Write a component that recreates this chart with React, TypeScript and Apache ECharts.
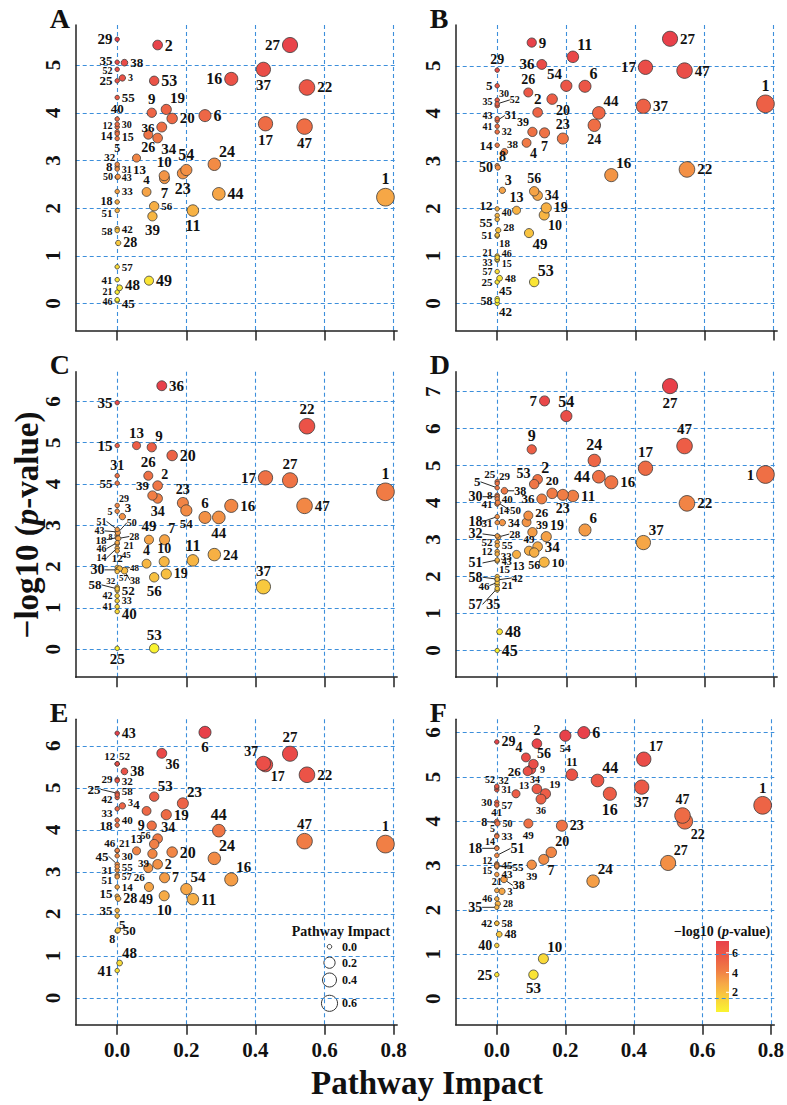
import React, { useEffect, useRef } from "react";
import * as echarts from "echarts";

const FONT = "'Liberation Serif', 'Times New Roman', Times, serif";

// Pathway numbers (1..58) and their topological impact (shared by all panels)
const PATHWAY_IDS = [
  1, 2, 3, 4, 5, 6, 7, 8, 9, 10, 11, 12, 13, 14, 15, 16, 17, 18, 19, 20,
  21, 22, 23, 24, 25, 26, 27, 28, 29, 30, 31, 32, 33, 34, 35, 36, 37, 38, 39, 40,
  41, 42, 43, 44, 45, 46, 47, 48, 49, 50, 51, 52, 53, 54, 55, 56, 57, 58,
];
const IMPACT = [
  0.776, 0.117, 0.015, 0.085, 0, 0.254, 0.137, 0, 0.1, 0.136,
  0.219, 0, 0.056, 0, 0, 0.33, 0.429, 0, 0.142, 0.159,
  0, 0.549, 0.19, 0.281, 0, 0.09, 0.5, 0.003, 0, 0,
  0, 0, 0, 0.117, 0, 0.129, 0.423, 0.021, 0.102, 0,
  0, 0, 0, 0.294, 0, 0, 0.542, 0.007, 0.092, 0.002,
  0, 0, 0.107, 0.2, 0, 0.107, 0, 0,
];

// -log10(p-value) of each pathway, one list per panel
const LOGP_A = [
  2.23, 5.42, 4.73, 2.34, 3.46, 3.94, 2.62, 2.87, 4.0, 2.68,
  1.95, 3.7, 3.05, 3.6, 3.56, 4.71, 3.77, 2.13, 4.07, 3.88,
  0.24, 4.53, 2.73, 2.92, 4.67, 3.54, 5.42, 1.27, 5.54, 3.76,
  2.82, 2.92, 2.35, 3.47, 5.06, 3.7, 4.91, 5.05, 1.83, 3.87,
  0.5, 1.57, 2.65, 2.3, 0.06, 0.08, 3.71, 0.33, 0.48, 2.66,
  1.95, 4.91, 4.67, 2.8, 4.32, 2.04, 0.77, 1.53,
];
const LOGP_B = [
  4.2, 4.02, 2.38, 3.38, 4.58, 4.57, 3.59, 2.9, 5.49, 1.86,
  5.19, 1.99, 1.96, 3.33, 0.91, 2.7, 4.97, 1.42, 2.01, 4.3,
  1.0, 2.82, 3.47, 3.75, 0.45, 4.44, 5.57, 1.54, 4.91, 4.28,
  3.85, 3.61, 0.93, 2.27, 4.16, 5.03, 4.15, 3.19, 3.61, 1.85,
  3.73, 0.0, 3.89, 4.01, 0.1, 0.97, 4.9, 0.53, 1.48, 2.86,
  1.44, 4.2, 0.45, 4.58, 1.77, 2.36, 0.67, 0.06,
];
const LOGP_C = [
  3.81, 3.96, 3.21, 2.07, 3.34, 3.19, 2.65, 2.76, 4.89, 2.12,
  2.15, 1.98, 4.93, 2.45, 4.93, 3.47, 4.15, 2.7, 1.82, 4.69,
  2.55, 5.4, 3.54, 2.29, 0.02, 4.2, 4.09, 2.68, 3.48, 1.92,
  4.2, 1.5, 1.17, 3.65, 5.97, 6.38, 1.51, 1.9, 3.72, 0.91,
  1.03, 1.29, 2.84, 3.19, 2.38, 2.58, 3.47, 1.95, 2.65, 2.82,
  2.9, 1.42, 0.02, 3.36, 4.02, 1.74, 1.88, 1.46,
];
const LOGP_D = [
  4.76, 4.63, 3.46, 3.47, 4.4, 3.26, 6.75, 4.2, 5.44, 2.39,
  4.18, 2.68, 2.6, 3.98, 2.0, 4.55, 4.93, 3.62, 3.08, 4.25,
  1.77, 3.98, 4.21, 5.14, 4.57, 3.65, 7.15, 3.07, 4.52, 4.16,
  3.46, 3.1, 2.61, 2.81, 1.64, 4.1, 2.92, 4.32, 3.2, 4.1,
  3.96, 1.91, 2.42, 4.7, 0.0, 1.84, 5.53, 0.51, 2.7, 4.0,
  2.45, 2.93, 4.5, 6.34, 2.84, 2.65, 1.68, 1.93,
];
const LOGP_E = [
  3.66, 3.18, 4.57, 4.45, 1.95, 6.32, 2.86, 1.59, 4.1, 2.43,
  2.35, 5.57, 3.5, 2.64, 2.42, 2.82, 5.55, 4.11, 4.36, 3.47,
  3.5, 5.31, 4.63, 3.32, 4.87, 3.09, 5.81, 2.36, 5.2, 3.38,
  3.04, 5.17, 4.5, 3.79, 2.08, 5.82, 5.58, 5.39, 3.43, 4.23,
  0.65, 4.77, 6.3, 3.98, 3.18, 3.51, 3.73, 0.83, 2.64, 1.61,
  2.92, 5.57, 4.79, 2.59, 3.12, 3.66, 2.88, 4.83,
];
const LOGP_F = [
  4.36, 5.75, 2.42, 5.44, 3.68, 6.0, 3.14, 3.97, 5.17, 0.9,
  5.05, 3.04, 4.62, 3.4, 2.97, 4.62, 5.4, 3.39, 4.62, 3.3,
  2.44, 4.0, 3.9, 2.65, 0.54, 5.13, 3.06, 2.14, 5.79, 4.43,
  4.71, 4.76, 3.66, 4.73, 2.06, 4.5, 4.77, 2.69, 3.02, 1.2,
  4.0, 1.7, 2.8, 4.92, 3.02, 2.25, 4.13, 1.45, 3.95, 3.95,
  3.23, 4.79, 0.54, 5.93, 2.99, 5.29, 4.37, 1.7,
];

const PANEL_NAMES = ["A", "B", "C", "D", "E", "F"];
const PANEL_VALUES = [LOGP_A, LOGP_B, LOGP_C, LOGP_D, LOGP_E, LOGP_F];
const Y_TICKS = [
  [0, 1, 2, 3, 4, 5],
  [0, 1, 2, 3, 4, 5],
  [0, 1, 2, 3, 4, 5, 6],
  [0, 1, 2, 3, 4, 5, 6, 7],
  [0, 1, 2, 3, 4, 5, 6],
  [0, 1, 2, 3, 4, 5, 6],
];
const X_TICKS = [0, 0.2, 0.4, 0.6, 0.8];
const SIZE_LEGEND = [0.0, 0.2, 0.4, 0.6];
const COLORBAR_TICKS = [2, 4, 6];

// label placement per panel: <id><side><font size>, optionally {dx,dy} (nudge) or [dx,dy] (nudge + guide line)
const LABELS = [
  "1t16 2r16 3r10 4t13 5b12 6r16 7b15 8l13 9t15 10t15 11b16 12l10{0,-2} 13b13{3,0} 14l12{0,4} 15r12{0,3} 16l16 17b15 18l12{0,-1} 19tr15 20r15 21l10{0,-1} 22r15 23b16 24tr16 25l13 26b14 27l15 28r14 29l15 30r10 31r10 32tl11 33r11 34br15 35l13{0,-2} 36l13 37b15 38r13 39b15 40t13 41l11 42r11 43r10 44r16 45r13{0,3} 46l10{0,2} 47b15 48r15{0,-3} 49r16 50l10 51l11{0,2} 52l10{0,1} 53r16 54t16 55r13 56r11 57r11 58l11",
  "1t16 2t15 3tr14 4br14 5l13 6tr16 7b14 8tr14 9r15 10br14 11tr16 12l13{0,-3} 13t14 14l13 15r10{0,3} 16tr15 17l15 18br11 19r14 20br14 21l10{0,-3} 22r15 23t14 24b14 25l11 26t14 27r15 28r11{0,-3} 29t14 30tr10 31r12[3,-5] 32r10 33l10{0,3} 34r14 35l10{0,-4} 36l15 37r15 38tr11 39tl12 40r10{0,-3} 41l10 42br13 43l10{0,-3} 44tr15 45tr13 46r10{0,-4} 47r15 48r11 49br15 50l14 51l11 52r10[8,-4] 53tr16 54tl15 55l13{0,3} 56t14 57l10 58l12",
  "1t16 2tr14 3tr13 4t14 5l10 6t15 7tr14 8l8{0,2} 9tr15 10t14 11t16 12t11 13t15 14l10[-6,10] 15l15 16r15 17l15 18l11[-6,2] 19r14 20r16 21r10{2,2} 22t15 23t14 24r15 25b15 26t15 27t15 28r10[6,-2] 29tr10 30l14[-8,0] 31t14 32tl9 33r10 34b14 35l15 36r15 37t15 38br10[3,2] 39tl13 40r15{0,2} 41l10 42l10 43l10[-8,-1] 44b15 45r9{0,4} 46l10[-6,6] 47r15 48r9[5,-1] 49t15 50r10[4,-10] 51l10[-6,-8] 52r13 53t15 54b13 55l13 56b15 57br9 58l13[-11,-4]",
  "1l15 2tr16 3r12 4l12{0,1} 5l13[-12,-6] 6tr15 7l15 8l11 9t16 10r13 11r15 12l11 13b12{2,0} 14br10 15tr11 16r15 17t15 18l14[-10,5] 19tr14 20t13 21r11 22r15 23b14 24t16 25tl11 26r13{0,-3} 27b15 28r11[6,-3] 29tr11 30l14[-10,0] 31l11 32l14[-10,-2] 33r11{-1,2} 34r15 35b14{-4,4} 36l13 37tr15 38r12[4,0] 39tr12{0,2} 40r11 41l11 42r11[10,-2] 43r10 44l16 45r16 46l11[-3,3] 47t15 48r16 49t11 50br11[10,0] 51l14[-10,3] 52l11 53tl14 54t16 55r11{0,-1} 56b12 57l14[-10,16] 58l14[-10,-2]",
  "1t15 2r14 3r10{0,-3} 4l13{0,-6} 5br13 6b15 7r14 8bl12 9l14 10b15 11r16 12tl11 13t12 14r11 15l13{0,-3} 16tr15 17br14 18l13 19r15 20r16 21tr11 22r15 23tr15 24tr16 25l13[-12,-4] 26bl11 27t15 28r14 29l11 30r11 31l11 32r11 33l11{0,4} 34tr14 35l13 36br14 37tl14 38r14 39bl11 40r11 41l15 42l11{0,2} 43r14 44t16 45l13[-4,-8] 46tl11 47t15 48tr15 49b14{-3,0} 50r13 51l11{0,5} 52tr11 53tr15 54tr15 55r11 56tl10 57r10 58r11{0,-4}",
  "1t15 2t14 3r10 4tl14 5tl10 6r16 7br14 8l12[-5,-1] 9r10{2,0} 10tr15 11t12 12l10{0,-3} 13tr10 14tl10 15l10{0,4} 16b16 17tr14 18l14[-10,0] 19tr11 20tr14 21t10 22br14 23r14 24tr15 25l15 26l13 27tr14 28r10 29r14 30l11 31r10 32tr10 33r11 34t10{-2,2} 35l14[-10,0] 36b10 37b14 38r12[3,6] 39b11 40l14 41t11 42l11 43r11 44tr16 45r11 46l10 47t14 48r12 49b11 50r10 51r14[9,-7] 52tl10 53b15 54b11 55r11[11,1] 56tr14 57r11 58r11",
];

// yellow -> red heat ramp for -log10(p)
const HEAT = ["#FAF430", "#F9D03C", "#F6A846", "#F07A45", "#EC5846", "#E8404A"];

// panel geometry
const COL_LEFT = [75.7, 455.7];
const COL_WIDTH = 321.5;
const ROW_TOP = [25, 371.7, 719.3];
const ROW_HEIGHT = 305.5;
const Y_RANGES = [
  [-0.565, 5.84],
  [-0.57, 5.86],
  [-0.68, 6.72],
  [-0.72, 7.54],
  [-0.64, 6.63],
  [-0.59, 6.3],
];

const sizeOf = (imp: number) => 4.5 + 15 * Math.sqrt(Math.max(0, imp));

type LabelSpec = { pos: string; size: number; dx?: number; dy?: number; guide: boolean };

function parseLabels(s: string): Record<number, LabelSpec> {
  const out: Record<number, LabelSpec> = {};
  s.trim()
    .split(/\s+/)
    .forEach((tok) => {
      const m = tok.match(/^(\d+)([a-z]+)(\d+)(?:([\[{])(-?\d+),(-?\d+)[\]}])?$/);
      if (!m) return;
      out[+m[1]] = {
        pos: m[2],
        size: +m[3],
        dx: m[5] != null ? +m[5] : undefined,
        dy: m[6] != null ? +m[6] : undefined,
        guide: m[4] === "[",
      };
    });
  return out;
}

function placement(pos: string): any {
  switch (pos) {
    case "l":
      return { position: "left", distance: 2 };
    case "r":
      return { position: "right", distance: 2 };
    case "t":
      return { position: "top", distance: 1 };
    case "b":
      return { position: "bottom", distance: 1 };
    case "tr":
      return { position: ["85%", "15%"], align: "left", verticalAlign: "bottom" };
    case "tl":
      return { position: ["15%", "15%"], align: "right", verticalAlign: "bottom" };
    case "br":
      return { position: ["85%", "85%"], align: "left", verticalAlign: "top" };
    case "bl":
      return { position: ["15%", "85%"], align: "right", verticalAlign: "top" };
    default:
      return { position: "right", distance: 2 };
  }
}

function buildOption() {
  const grids: any[] = [];
  const xAxes: any[] = [];
  const yAxes: any[] = [];
  const series: any[] = [];
  const visualMaps: any[] = [];
  const graphics: any[] = [];

  const lineStyle = { color: "#3D8FDB", type: [4, 3], width: 1.1 };
  const axisLine = { show: true, onZero: false, lineStyle: { color: "#222", width: 1.5 } };

  PANEL_NAMES.forEach((name, i) => {
    const col = i % 2;
    const row = Math.floor(i / 2);
    const left = COL_LEFT[col];
    const top = ROW_TOP[row];
    grids.push({ left, top, width: COL_WIDTH, height: ROW_HEIGHT, containLabel: false });

    xAxes.push({
      type: "value",
      gridIndex: i,
      min: -0.12,
      max: 0.81,
      axisLine,
      axisTick: {
        show: true,
        length: 10,
        customValues: X_TICKS,
        lineStyle: { color: "#222", width: 1.5 },
      },
      axisLabel: {
        show: row === 2,
        customValues: X_TICKS,
        formatter: (v: number) => v.toFixed(1),
        fontSize: 21,
        fontWeight: "bold",
        fontFamily: FONT,
        color: "#111",
        margin: 15,
      },
      splitLine: { show: true, lineStyle },
    });

    yAxes.push({
      type: "value",
      gridIndex: i,
      min: Y_RANGES[i][0],
      max: Y_RANGES[i][1],
      splitNumber: 7,
      axisLine,
      axisTick: { show: false },
      // rotated tick labels are placed separately (see App)
      axisLabel: { show: false },
      splitLine: { show: true, showMinLine: false, showMaxLine: false, lineStyle },
    });

    const values = PANEL_VALUES[i];
    const spec = parseLabels(LABELS[i]);
    const specList = PATHWAY_IDS.map((id) => spec[id] || { pos: "r", size: 12, guide: false });

    series.push({
      type: "scatter",
      name,
      xAxisIndex: i,
      yAxisIndex: i,
      z: 3,
      symbol: "circle",
      symbolSize: (v: number[]) => sizeOf(v[0]),
      itemStyle: { borderColor: "#3a3a3a", borderWidth: 0.8, opacity: 1 },
      label: {
        show: true,
        formatter: "{b}",
        color: "#111",
        fontFamily: FONT,
        fontWeight: "bold",
      },
      labelLine: { show: false, lineStyle: { color: "#111", width: 0.9 } },
      labelLayout: (p: any) => {
        const s = specList[p.dataIndex];
        return s && s.dx != null ? { dx: s.dx, dy: s.dy } : {};
      },
      emphasis: { disabled: true },
      data: PATHWAY_IDS.map((id, k) => {
        const s = specList[k];
        return {
          name: String(id),
          value: [IMPACT[k], values[k]],
          label: { ...placement(s.pos), fontSize: s.size, lineHeight: s.size },
          labelLine: { show: s.guide },
        };
      }),
    });

    visualMaps.push({
      type: "continuous",
      show: false,
      seriesIndex: i,
      dimension: 1,
      min: 0,
      max: Math.max(...values),
      inRange: { color: HEAT },
    });

    // panel letter
    graphics.push({
      type: "text",
      x: left - 26,
      y: top - 7,
      style: {
        text: name,
        font: `bold 28px ${FONT}`,
        fill: "#111",
        align: "left",
        verticalAlign: "middle",
      },
    });
  });

  // shared axis titles
  graphics.push({
    type: "text",
    x: 27,
    y: 525,
    rotation: Math.PI / 2,
    style: {
      text: "{n|\u2212log10 (}{i|p}{n|-value)}",
      align: "center",
      verticalAlign: "middle",
      rich: {
        n: { fontSize: 33, fontWeight: "bold", fontFamily: FONT, fill: "#111" },
        i: { fontSize: 33, fontWeight: "bold", fontStyle: "italic", fontFamily: FONT, fill: "#111" },
      },
    },
  });
  graphics.push({
    type: "text",
    x: 427,
    y: 1083,
    style: {
      text: "Pathway Impact",
      font: `bold 33px ${FONT}`,
      fill: "#111",
      align: "center",
      verticalAlign: "middle",
    },
  });

  // bubble-size legend (panel E)
  graphics.push({
    type: "text",
    x: 341,
    y: 931,
    style: {
      text: "Pathway Impact",
      font: `bold 14px ${FONT}`,
      fill: "#111",
      align: "center",
      verticalAlign: "middle",
    },
  });
  const legendY = [946.7, 962.7, 980, 1003.3];
  SIZE_LEGEND.forEach((v, k) => {
    graphics.push({
      type: "circle",
      shape: { cx: 329.5, cy: legendY[k], r: sizeOf(v) / 2 },
      style: { fill: "#fff", stroke: "#333", lineWidth: 1 },
    });
    graphics.push({
      type: "text",
      x: 342,
      y: legendY[k],
      style: {
        text: v.toFixed(1),
        font: `bold 12px ${FONT}`,
        fill: "#111",
        align: "left",
        verticalAlign: "middle",
      },
    });
  });

  // colour bar legend (panel F)
  const barX = 716;
  const barTop = 941;
  const barH = 71;
  const barMax = 7.2;
  graphics.push({
    type: "text",
    x: 722,
    y: 931,
    style: {
      text: "{n|\u2212log10 (}{i|p}{n|-value)}",
      align: "center",
      verticalAlign: "middle",
      rich: {
        n: { fontSize: 14, fontWeight: "bold", fontFamily: FONT, fill: "#111" },
        i: { fontSize: 14, fontWeight: "bold", fontStyle: "italic", fontFamily: FONT, fill: "#111" },
      },
    },
  });
  graphics.push({
    type: "rect",
    shape: { x: barX, y: barTop, width: 13, height: barH },
    style: {
      fill: new echarts.graphic.LinearGradient(
        0,
        1,
        0,
        0,
        HEAT.map((c, k) => ({ offset: k / (HEAT.length - 1), color: c }))
      ),
    },
  });
  COLORBAR_TICKS.forEach((v) => {
    const y = barTop + barH - (v / barMax) * barH;
    graphics.push({
      type: "line",
      shape: { x1: barX + 10, y1: y, x2: barX + 15, y2: y },
      style: { stroke: "#ffffff", lineWidth: 1 },
    });
    graphics.push({
      type: "text",
      x: barX + 16,
      y,
      style: {
        text: String(v),
        font: `bold 12px ${FONT}`,
        fill: "#111",
        align: "left",
        verticalAlign: "middle",
      },
    });
  });

  return {
    animation: false,
    backgroundColor: "#ffffff",
    grid: grids,
    xAxis: xAxes,
    yAxis: yAxes,
    visualMap: visualMaps,
    series,
    graphic: { elements: graphics },
  };
}

export default function App() {
  const ref = useRef<HTMLDivElement>(null);

  useEffect(() => {
    document.body.style.margin = "0";
    if (!ref.current) return;
    const chart = echarts.init(ref.current, undefined, { renderer: "svg" });
    const option: any = buildOption();
    chart.setOption(option);

    // y tick labels, rotated to read upwards, positioned through each panel's own scale
    const yLabels: any[] = [];
    Y_TICKS.forEach((ticks, i) => {
      const axisX = COL_LEFT[i % 2];
      ticks.forEach((v) => {
        const pt = chart.convertToPixel({ gridIndex: i }, [0, v]) as number[];
        yLabels.push({
          type: "text",
          x: axisX - 23,
          y: pt[1],
          rotation: Math.PI / 2,
          style: {
            text: String(v),
            font: `bold 21px ${FONT}`,
            fill: "#111",
            align: "center",
            verticalAlign: "middle",
          },
        });
      });
    });
    chart.setOption({ graphic: { elements: [...option.graphic.elements, ...yLabels] } });

    return () => chart.dispose();
  }, []);

  return <div ref={ref} style={{ width: 787, height: 1105, overflow: "hidden" }} />;
}
